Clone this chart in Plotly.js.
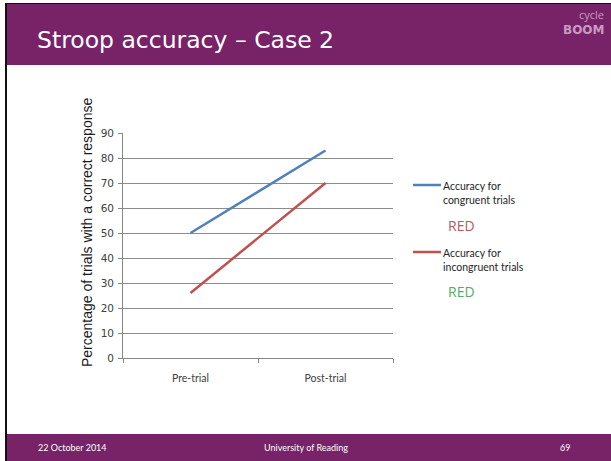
<!DOCTYPE html>
<html>
<head>
<meta charset="utf-8">
<script src="https://cdn.plot.ly/plotly-3.0.1.min.js"></script>
<style>html,body{margin:0;padding:0;background:#fff;}#chart{width:611px;height:461px;}</style>
</head>
<body>
<div id="chart"></div>
<script>
var categories = ["Pre-trial", "Post-trial"];
var congruent = [50, 83];
var incongruent = [26, 70];
var seriesNames = ["Accuracy for<br>congruent trials", "Accuracy for<br>incongruent trials"];
var yTicks = [0, 10, 20, 30, 40, 50, 60, 70, 80, 90];

var W = 611, H = 461;
var PL = 114, L = 123, R = 393, T = 133, B = 358;
function px(x) { return (x - PL) / (R - PL); }
function py(y) { return (B - y) / (B - T); }

var purple = "#782267";
var blue = "#4F81BD", red = "#C0504D";

var traces = [
  {x: categories, y: congruent, type: "scatter", mode: "lines", name: seriesNames[0],
   line: {color: blue, width: 2.5}, showlegend: false},
  {x: categories, y: incongruent, type: "scatter", mode: "lines", name: seriesNames[1],
   line: {color: red, width: 2.5}, showlegend: false},
  {x: [], y: [], type: "scatter", mode: "lines", yaxis: "y2", showlegend: false, hoverinfo: "skip"}
];

var shapes = [
  {type: "rect", xref: "paper", yref: "paper", x0: px(5), x1: px(611), y0: py(3), y1: py(65), fillcolor: "#111", line: {width: 0}, layer: "below"},
  {type: "rect", xref: "paper", yref: "paper", x0: px(7), x1: px(611), y0: py(4), y1: py(65), fillcolor: purple, line: {width: 0}, layer: "below"},
  {type: "rect", xref: "paper", yref: "paper", x0: px(5), x1: px(7), y0: py(3), y1: py(461), fillcolor: "#111", line: {width: 0}, layer: "below"},
  {type: "rect", xref: "paper", yref: "paper", x0: px(7), x1: px(611), y0: py(434), y1: py(461), fillcolor: purple, line: {width: 0}, layer: "below"},
  {type: "line", xref: "paper", yref: "paper", x0: px(413), x1: px(441), y0: py(185), y1: py(185), line: {color: blue, width: 2.5}},
  {type: "line", xref: "paper", yref: "paper", x0: px(413), x1: px(441), y0: py(252), y1: py(252), line: {color: red, width: 2.5}}
];

var legendFont = {family: "Lato, 'Open Sans', sans-serif", size: 10.5, color: "#262626"};
var annotations = [
  {text: "Stroop accuracy – Case 2", xref: "paper", yref: "paper", x: px(35), y: py(40), xanchor: "left", yanchor: "middle", showarrow: false,
   font: {family: "'DejaVu Sans', sans-serif", size: 23.5, color: "#ffffff"}},
  {text: "cycle", xref: "paper", yref: "paper", x: px(606), y: py(15), xanchor: "right", yanchor: "middle", showarrow: false,
   font: {family: "'Open Sans', sans-serif", size: 11, color: "#c99bc2"}},
  {text: "<b>BOOM</b>", xref: "paper", yref: "paper", x: px(607), y: py(30), xanchor: "right", yanchor: "middle", showarrow: false,
   font: {family: "'DejaVu Sans', sans-serif", size: 12, color: "#c99bc2"}},
  {text: "22 October 2014", xref: "paper", yref: "paper", x: px(36), y: py(447), xanchor: "left", yanchor: "middle", showarrow: false,
   font: {family: "Lato, sans-serif", size: 9, color: "#ffffff"}},
  {text: "University of Reading", xref: "paper", yref: "paper", x: px(306), y: py(447), xanchor: "center", yanchor: "middle", showarrow: false,
   font: {family: "Lato, sans-serif", size: 9, color: "#ffffff"}},
  {text: "69", xref: "paper", yref: "paper", x: px(572), y: py(447), xanchor: "right", yanchor: "middle", showarrow: false,
   font: {family: "Lato, sans-serif", size: 9, color: "#ffffff"}},
  {text: "Percentage of trials with a correct response", xref: "paper", yref: "paper", x: px(87), y: py(233), xanchor: "center", yanchor: "middle",
   textangle: -90, showarrow: false, font: {family: "'Liberation Sans', Arial, sans-serif", size: 14, color: "#1a1a1a"}},
  {text: seriesNames[0], xref: "paper", yref: "paper", x: px(441), y: py(193), xanchor: "left", yanchor: "middle", align: "left", showarrow: false, font: legendFont},
  {text: "RED", xref: "paper", yref: "paper", x: px(446), y: py(225), xanchor: "left", yanchor: "middle", showarrow: false,
   font: {family: "'Open Sans', sans-serif", size: 14, color: "#b9575a"}},
  {text: seriesNames[1], xref: "paper", yref: "paper", x: px(441), y: py(260), xanchor: "left", yanchor: "middle", align: "left", showarrow: false, font: legendFont},
  {text: "RED", xref: "paper", yref: "paper", x: px(446), y: py(291), xanchor: "left", yanchor: "middle", showarrow: false,
   font: {family: "'Open Sans', sans-serif", size: 14, color: "#55ab67"}}
];

var layout = {
  width: W, height: H,
  margin: {l: PL, r: W - R, t: T, b: H - B, pad: 0},
  paper_bgcolor: "#ffffff", plot_bgcolor: "#ffffff",
  showlegend: false,
  xaxis: {type: "category", range: [-0.5, 1.5], domain: [(L - PL) / (R - PL), 1], tickson: "boundaries", ticks: "outside", ticklen: 4, tickcolor: "#868686",
          showline: true, linecolor: "#868686", linewidth: 1, showgrid: false, zeroline: false, fixedrange: true,
          ticklabelstandoff: 10,
          tickfont: {family: "Lato, sans-serif", size: 10.5, color: "#404040"}},
  yaxis: {range: [0, 90], tickvals: yTicks, ticks: "outside", ticklen: 4, tickcolor: "#868686",
          showline: true, linecolor: "#868686", linewidth: 1, showgrid: true, gridcolor: "#8c8c8c", gridwidth: 1,
          zeroline: false, fixedrange: true, showticklabels: false},
  yaxis2: {range: [0, 90], tickvals: yTicks, overlaying: "y", anchor: "free", position: 0, side: "left",
           ticks: "", showline: false, showgrid: false, zeroline: false, fixedrange: true,
           tickfont: {family: "'DejaVu Sans', sans-serif", size: 10.5, color: "#404040"}},
  shapes: shapes,
  annotations: annotations
};

Plotly.newPlot("chart", traces, layout, {displayModeBar: false, staticPlot: true});
</script>
</body>
</html>
